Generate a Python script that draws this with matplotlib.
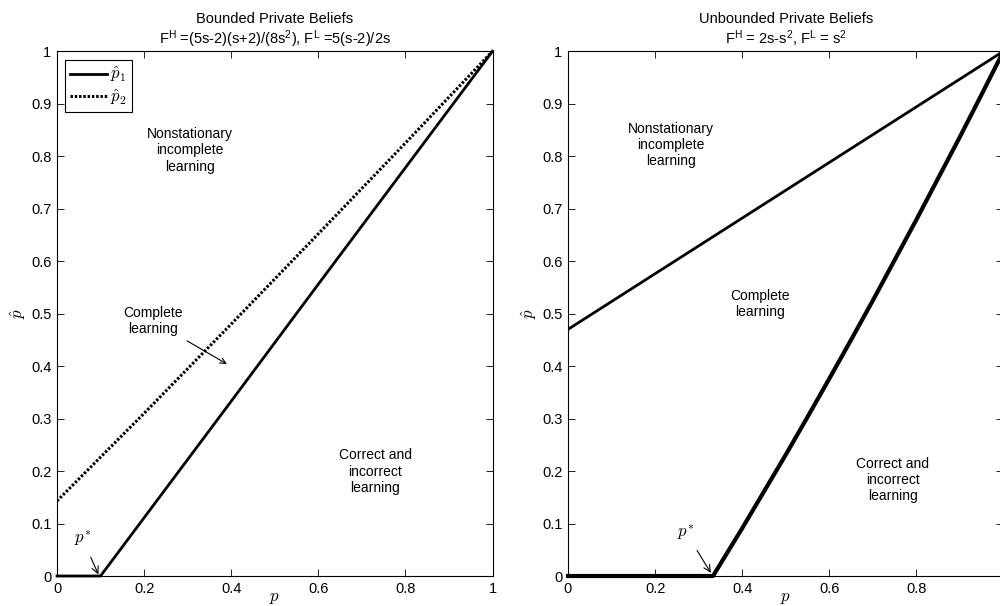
import numpy as np
import matplotlib
matplotlib.use("Agg")
import matplotlib.pyplot as plt

plt.rcParams["font.family"] = ["Liberation Sans", "DejaVu Sans"]
plt.rcParams["mathtext.fontset"] = "cm"
plt.rcParams["xtick.direction"] = "in"
plt.rcParams["ytick.direction"] = "in"

# bounded private beliefs
p_left = [0.0, 0.1, 0.2, 0.4, 0.6, 0.8, 1.0]
p1_left = [0.0, 0.0, 0.111, 0.333, 0.556, 0.778, 1.0]
p2_left_p = [0.0, 0.2, 0.4, 0.6, 0.8, 1.0]
p2_left = [0.143, 0.31, 0.48, 0.652, 0.825, 1.0]

# unbounded private beliefs
p_right_upper = [0.0, 1.0]
upper_right = [0.47, 1.0]
p_right_lower = [0.0, 0.333, 0.4, 0.45, 0.5, 0.55, 0.6, 0.65, 0.7, 0.75,
                 0.8, 0.85, 0.9, 0.95, 1.0]
lower_right = [0.0, 0.0, 0.091, 0.161, 0.231, 0.303, 0.376, 0.450, 0.525, 0.602,
               0.679, 0.758, 0.837, 0.918, 1.0]

ticks_x = [0, 0.2, 0.4, 0.6, 0.8, 1]
ticks_y = [0, 0.1, 0.2, 0.3, 0.4, 0.5, 0.6, 0.7, 0.8, 0.9, 1]
xlabels = ["0", "0.2", "0.4", "0.6", "0.8", "1"]
ylabels = ["0", "0.1", "0.2", "0.3", "0.4", "0.5", "0.6", "0.7", "0.8", "0.9", "1"]

fig = plt.figure(figsize=(10, 6.06), dpi=100)
ax1 = fig.add_axes([0.057, 0.0495, 0.4355, 0.866])
ax2 = fig.add_axes([0.568, 0.0495, 0.4355, 0.866])

fs = 10.5
fa = 10


def style(ax, xl):
    ax.set_xlim(0, 1)
    ax.set_ylim(0, 1)
    ax.set_xticks(ticks_x)
    ax.set_xticklabels(xl)
    ax.set_yticks(ticks_y)
    ax.set_yticklabels(ylabels)
    ax.tick_params(top=True, right=True, labelsize=fs, length=5, width=0.6, pad=4)
    for s in ax.spines.values():
        s.set_linewidth(0.8)
    ax.set_xlabel(r"$p$", fontsize=12, labelpad=-3.5)
    ax.set_ylabel(r"$\hat{p}$", fontsize=12, labelpad=2)


# left
ax1.plot(p_left, p1_left, color="black", lw=2, label=r"$\hat{p}_1$", clip_on=False)
ax1.plot(p2_left_p, p2_left, color="black", lw=2.2, ls=(0, (0.8, 0.6)), label=r"$\hat{p}_2$")
style(ax1, xlabels)
ax1.set_title("Bounded Private Beliefs\n"
              r"$\mathregular{F^{H}}$ =(5s-2)(s+2)/(8s$\mathregular{^{2}}$), "
              r"$\mathregular{F^{L}}$ =5(s-2)/2s", fontsize=fs, pad=5)
leg = ax1.legend(loc="upper left", fontsize=12, handlelength=2.2, handletextpad=0.2,
                 borderpad=0.3, labelspacing=0.15, fancybox=False, framealpha=1,
                 edgecolor="black", borderaxespad=0.5)
leg.get_frame().set_linewidth(0.8)

ax1.text(0.306, 0.811, "Nonstationary\nincomplete\nlearning", ha="center", va="center",
         fontsize=fa)
ax1.annotate("Complete\nlearning", xy=(0.39, 0.404), xytext=(0.22, 0.486),
             ha="center", va="center", fontsize=fa,
             arrowprops=dict(arrowstyle="->", color="black", lw=0.8, shrinkA=3, shrinkB=0))
ax1.text(0.731, 0.199, "Correct and\nincorrect\nlearning", ha="center", va="center",
         fontsize=fa)
ax1.annotate(r"$p^{*}$", xy=(0.095, 0.003), xytext=(0.058, 0.072),
             ha="center", va="center", fontsize=12,
             arrowprops=dict(arrowstyle="->", color="black", lw=0.8, shrinkA=5, shrinkB=0))

# right
ax2.plot(p_right_upper, upper_right, color="black", lw=2)
ax2.plot(p_right_lower, lower_right, color="black", lw=3, clip_on=False)
style(ax2, xlabels[:-1] + [""])
ax2.set_title("Unbounded Private Beliefs\n"
              r"$\mathregular{F^{H}}$ = 2s-s$\mathregular{^{2}}$, "
              r"$\mathregular{F^{L}}$ = s$\mathregular{^{2}}$", fontsize=fs, pad=5)
ax2.text(0.237, 0.821, "Nonstationary\nincomplete\nlearning", ha="center", va="center",
         fontsize=fa)
ax2.text(0.441, 0.519, "Complete\nlearning", ha="center", va="center",
         fontsize=fa)
ax2.text(0.746, 0.183, "Correct and\nincorrect\nlearning", ha="center", va="center",
         fontsize=fa)
ax2.annotate(r"$p^{*}$", xy=(0.328, 0.006), xytext=(0.27, 0.084),
             ha="center", va="center", fontsize=12,
             arrowprops=dict(arrowstyle="->", color="black", lw=0.8, shrinkA=5, shrinkB=0))

fig.savefig("out.png", dpi=100)
